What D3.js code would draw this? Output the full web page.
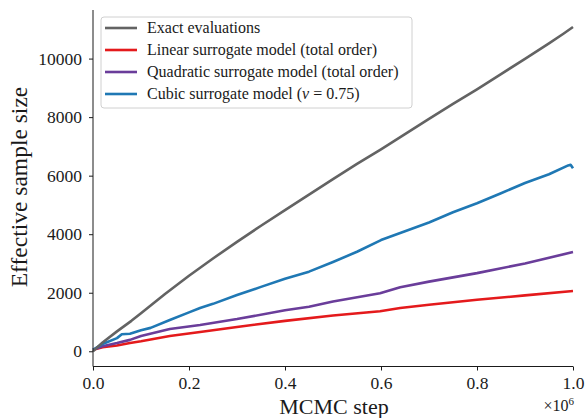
<!DOCTYPE html>
<html><head><meta charset="utf-8">
<script src="https://cdn.jsdelivr.net/npm/d3@7"></script>
<style>body{margin:0;background:#fff}svg{display:block}</style>
</head><body><div id="chart"></div>
<script>
const seriesNames = ["Exact evaluations","Linear surrogate model (total order)","Quadratic surrogate model (total order)","Cubic surrogate model (\u03BD = 0.75)"];
const seriesColors = ["#636363","#e41a1c","#6a3d9a","#1f78b4"];
const exactX = [0,0.02,0.05,0.08,0.1,0.15,0.2,0.25,0.3,0.35,0.4,0.45,0.5,0.55,0.6,0.65,0.7,0.75,0.8,0.85,0.9,0.95,0.98,1.0];
const exactY = [0,300,680,1040,1300,1960,2580,3170,3740,4290,4820,5350,5880,6400,6900,7420,7940,8450,8950,9470,9990,10520,10850,11080];
const linX = [0,0.02,0.05,0.077,0.1,0.16,0.223,0.3,0.4,0.5,0.598,0.64,0.7,0.8,0.9,1.0];
const linY = [50,140,200,280,340,520,660,830,1040,1220,1370,1480,1590,1760,1910,2060];
const quadX = [0,0.02,0.05,0.077,0.1,0.16,0.223,0.3,0.4,0.45,0.5,0.598,0.64,0.7,0.8,0.9,1.0];
const quadY = [50,170,280,390,520,760,900,1100,1400,1520,1700,1980,2190,2380,2670,3000,3390];
const cubX = [0,0.02,0.05,0.06,0.077,0.1,0.12,0.16,0.2,0.223,0.25,0.3,0.35,0.4,0.45,0.5,0.55,0.6,0.65,0.7,0.75,0.8,0.85,0.9,0.95,0.99,0.995,1.0];
const cubY = [50,250,450,580,600,720,800,1070,1330,1480,1620,1920,2200,2480,2720,3050,3400,3800,4100,4400,4750,5060,5400,5750,6050,6350,6370,6250];
const xTicks = [0,0.2,0.4,0.6,0.8,1.0];
const yTicks = [0,2000,4000,6000,8000,10000];

const W=587,H=418;
const svg=d3.select("#chart").append("svg").attr("width",W).attr("height",H);
const x=d3.scaleLinear().domain([0,1]).range([93,573]);
const y=d3.scaleLinear().domain([-520,11660]).range([366.5,10]);
const font="'Liberation Serif', serif";
const ink="#1a1a1a";

const xs=[exactX,linX,quadX,cubX], ys=[exactY,linY,quadY,cubY];
const line=d3.line().x(d=>x(d[0])).y(d=>y(d[1]));
const order=[1,2,3,0];
order.forEach(i=>{
  const pts=xs[i].map((v,k)=>[v,ys[i][k]]);
  svg.append("path").datum(pts).attr("d",line).attr("fill","none")
    .attr("stroke",seriesColors[i]).attr("stroke-width",2.6).attr("stroke-linejoin","round");
});

const xAxis=svg.append("g").attr("transform","translate(0,366.5)")
  .call(d3.axisBottom(x).tickValues(xTicks).tickFormat(d3.format(".1f")).tickSizeOuter(0).tickSize(4).tickPadding(6));
const yAxis=svg.append("g").attr("transform","translate(93,0)")
  .call(d3.axisLeft(y).tickValues(yTicks).tickFormat(d=>String(d)).tickSizeOuter(0).tickSize(4).tickPadding(7));
[xAxis,yAxis].forEach(g=>{
  g.attr("font-family",font);
  g.selectAll("text").attr("font-family",font).attr("font-size",17.5).attr("fill",ink);
  g.selectAll("line").attr("stroke",ink);
  g.select(".domain").attr("stroke",ink).attr("stroke-width",1);
});
xAxis.select(".domain").attr("d","M93,0H573");
yAxis.select(".domain").attr("d","M0,366.5V10");

svg.append("text").attr("x",334).attr("y",414).attr("text-anchor","middle")
  .attr("font-family",font).attr("font-size",22).attr("fill",ink).text("MCMC step");
const ex=svg.append("text").attr("x",574).attr("y",411).attr("text-anchor","end")
  .attr("font-family",font).attr("font-size",16).attr("fill",ink);
ex.append("tspan").text("\u00D710");
ex.append("tspan").attr("dy",-6).attr("font-size",11).text("6");
svg.append("text").attr("transform","translate(27,187) rotate(-90)").attr("text-anchor","middle")
  .attr("font-family",font).attr("font-size",23.5).attr("fill",ink).text("Effective sample size");

// legend
const lg=svg.append("g");
lg.append("rect").attr("x",101).attr("y",17).attr("width",311).attr("height",91).attr("rx",3)
  .attr("fill","#fff").attr("fill-opacity",0.85).attr("stroke","#d0d0d0");
seriesNames.forEach((n,i)=>{
  const yy=28+i*22;
  lg.append("line").attr("x1",105).attr("x2",137).attr("y1",yy).attr("y2",yy)
    .attr("stroke",seriesColors[i]).attr("stroke-width",2.6);
  const t=lg.append("text").attr("x",147).attr("y",yy+5).attr("font-family",font).attr("font-size",16)
    .attr("fill",ink);
  if(i===3){
    t.append("tspan").text("Cubic surrogate model (");
    t.append("tspan").attr("font-style","italic").text("\u03BD");
    t.append("tspan").text(" = 0.75)");
  } else t.text(n);
});
</script></body></html>
